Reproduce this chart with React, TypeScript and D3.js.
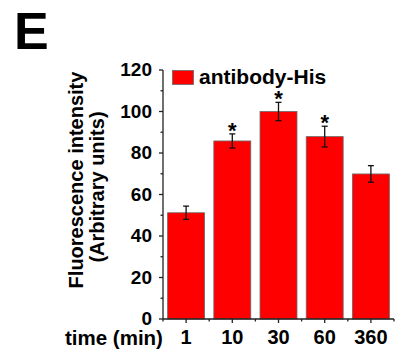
import React from "react";
import * as d3 from "d3";

const categories = ["1", "10", "30", "60", "360"];
const values = [51.2, 85.8, 100, 87.9, 69.9];
const errors = [3.2, 3.4, 4.4, 5.0, 4.0];
const significant = [false, true, true, true, false];
const yTicks = [0, 20, 40, 60, 80, 100, 120];
const yMinorTicks = [10, 30, 50, 70, 90, 110];
const seriesName = "antibody-His";

const FONT = "'Liberation Sans', Arial, Helvetica, sans-serif";

export default function App() {
  const W = 396, H = 349;
  const axisX = 163;
  const x = d3.scaleBand<string>().domain(categories).range([axisX, 394]).paddingInner(0.2).paddingOuter(0.1);
  const y = d3.scaleLinear().domain([0, 120]).range([319, 70]);
  const step = x.step();
  const bw = x.bandwidth();
  const center = (c: string) => (x(c) as number) + bw / 2;
  const boundaries = categories.slice(0, -1).map((c) => center(c) + step / 2);

  return (
    <svg width={W} height={H} style={{ position: "absolute", left: 0, top: 0, background: "#fff" }} fontFamily={FONT} fontWeight="bold">
      <text x={14} y={49} fontSize={52} fill="#000">E</text>

      {/* bars */}
      {categories.map((c, i) => (
        <rect key={c} x={x(c)} y={y(values[i])} width={bw} height={y(0) - y(values[i])} fill="#ff0000" stroke="#6a6a6a" strokeWidth={0.8} />
      ))}
      {/* error bars */}
      {categories.map((c, i) => {
        const cx = center(c);
        const top = y(values[i] + errors[i]);
        const bot = y(values[i] - errors[i]);
        return (
          <g key={"e" + c} stroke="#111" strokeWidth={1.3}>
            <line x1={cx} x2={cx} y1={top} y2={bot} />
            <line x1={cx - 3} x2={cx + 3} y1={top} y2={top} />
            <line x1={cx - 3} x2={cx + 3} y1={bot} y2={bot} />
          </g>
        );
      })}
      {/* asterisks */}
      {categories.map((c, i) =>
        significant[i] ? (
          <text key={"s" + c} x={center(c)} y={y(values[i] + errors[i]) + 4} textAnchor="middle" fontSize={22} fill="#000">*</text>
        ) : null
      )}

      {/* y axis */}
      <line x1={axisX} x2={axisX} y1={y(120)} y2={y(0)} stroke="#222" strokeWidth={1.3} />
      {yTicks.map((t) => (
        <g key={"yt" + t}>
          <line x1={axisX - 4} x2={axisX} y1={y(t)} y2={y(t)} stroke="#222" strokeWidth={1.3} />
          <text x={axisX - 11} y={y(t)} dy="0.34em" textAnchor="end" fontSize={19} fill="#000">{t}</text>
        </g>
      ))}
      {yMinorTicks.map((t) => (
        <line key={"ym" + t} x1={axisX - 2.5} x2={axisX} y1={y(t)} y2={y(t)} stroke="#222" strokeWidth={1.3} />
      ))}

      {/* x axis */}
      <line x1={axisX} x2={394} y1={y(0)} y2={y(0)} stroke="#222" strokeWidth={1.3} />
      {categories.map((c) => (
        <g key={"xt" + c}>
          <line x1={center(c)} x2={center(c)} y1={y(0)} y2={y(0) + 4} stroke="#222" strokeWidth={1.3} />
          <text x={center(c)} y={344} textAnchor="middle" fontSize={20} fill="#000">{c}</text>
        </g>
      ))}
      {[axisX, ...boundaries, 394].map((b, i) => (
        <line key={"xb" + i} x1={b} x2={b} y1={y(0)} y2={y(0) + 2.5} stroke="#222" strokeWidth={1.3} />
      ))}
      <text x={65} y={345} fontSize={20.5} fill="#000">time (min)</text>

      {/* y title */}
      <text transform={`translate(83,180) rotate(-90)`} textAnchor="middle" fontSize={20} fill="#000">Fluorescence intensity</text>
      <text transform={`translate(104,187) rotate(-90)`} textAnchor="middle" fontSize={20} fill="#000">(Arbitrary units)</text>

      {/* legend */}
      <rect x={172.5} y={70.5} width={21} height={14} fill="#ff0000" stroke="#6a6a6a" strokeWidth={0.8} />
      <text x={199} y={84} fontSize={21} fill="#000">{seriesName}</text>
    </svg>
  );
}
